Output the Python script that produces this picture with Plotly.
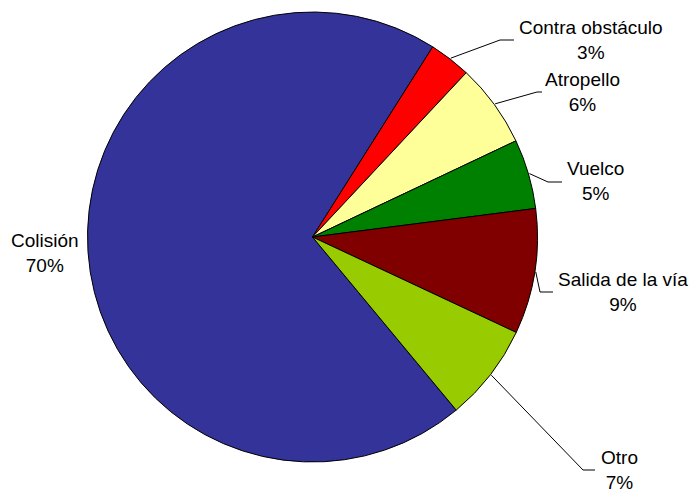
import math
import plotly.graph_objects as go

# Accident types and their share (%)
categories = ["Colisión", "Contra obstáculo", "Atropello", "Vuelco", "Salida de la vía", "Otro"]
shares = [70, 3, 6, 5, 9, 7]
colors = ["#333399", "#FF0000", "#FFFF99", "#008000", "#800000", "#99CC00"]

W, H = 690, 492
CX, CY, R = 312.5, 237.0, 225.0   # pie centre and radius in pixels
START_ANGLE = 140.3               # first slice starts here, clockwise from 12 o'clock
FONT = dict(family="Liberation Sans, Arial, sans-serif", size=19, color="#000000")

# Label placement (pixels): leader-line elbow, end of horizontal tick, text centre x, text centre y
label_layout = {
    "Colisión":         None,
    "Contra obstáculo": dict(elbow=(500, 40), end=514, tx=591, ty=40),
    "Atropello":        dict(elbow=(537, 92), end=542, tx=582, ty=92),
    "Vuelco":           dict(elbow=(548, 182), end=562, tx=595.5, ty=181),
    "Salida de la vía": dict(elbow=(540, 292), end=553, tx=623, ty=292),
    "Otro":             dict(elbow=(583, 470), end=595, tx=619, ty=470),
}
colision_label = dict(tx=44.5, ty=253)


def px(x):
    return x / W


def py(y):
    return 1 - y / H


fig = go.Figure(go.Pie(
    labels=categories,
    values=shares,
    sort=False,
    direction="clockwise",
    rotation=START_ANGLE,
    marker=dict(colors=colors, line=dict(color="#000000", width=1)),
    textinfo="none",
    hoverinfo="label+percent",
    showlegend=False,
    domain=dict(x=[px(CX - R), px(CX + R)], y=[py(CY + R), py(CY - R)]),
))

total = sum(shares)
shapes, annotations = [], []
acc = 0.0
for name, val in zip(categories, shares):
    mid = START_ANGLE + 360.0 * (acc + val / 2) / total
    acc += val
    pct = round(100 * val / total)
    text = f"{name}<br>{pct}%"
    lay = label_layout[name]
    if lay is None:
        annotations.append(dict(x=px(colision_label["tx"]), y=py(colision_label["ty"]),
                                xref="paper", yref="paper", text=text, showarrow=False,
                                xanchor="center", yanchor="middle", align="center", font=FONT))
        continue
    a = math.radians(mid)
    sx = CX + (R + 1) * math.sin(a)
    sy = CY - (R + 1) * math.cos(a)
    ex, ey = lay["elbow"]
    path = f"M {px(sx)},{py(sy)} L {px(ex)},{py(ey)} L {px(lay['end'])},{py(ey)}"
    shapes.append(dict(type="path", path=path, xref="paper", yref="paper",
                       line=dict(color="#000000", width=1)))
    annotations.append(dict(x=px(lay["tx"]), y=py(lay["ty"]), xref="paper", yref="paper",
                            text=text, showarrow=False, xanchor="center", yanchor="middle",
                            align="center", font=FONT))

fig.update_layout(
    width=W, height=H,
    margin=dict(l=0, r=0, t=0, b=0),
    paper_bgcolor="#FFFFFF",
    plot_bgcolor="#FFFFFF",
    shapes=shapes,
    annotations=annotations,
)

fig.write_html("out.html")
